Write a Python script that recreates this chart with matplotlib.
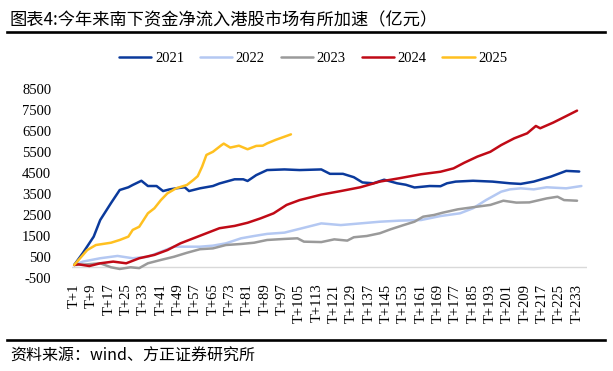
import matplotlib
matplotlib.use("Agg")
import matplotlib.pyplot as plt
from matplotlib.lines import Line2D

# DATA (T+n day index -> cumulative net inflow, 亿元)
t_2021 = [1, 5, 10, 13, 18, 22, 26, 28, 32, 35, 39, 42, 45, 48, 52, 54, 59, 65, 68, 75,
          79, 81, 85, 90, 98, 105, 115, 119, 125, 130, 134, 139, 144, 150, 154, 158,
          165, 170, 173, 177, 185, 194, 202, 207, 213, 221, 228, 234]
v_2021 = [120, 690, 1470, 2260, 3070, 3690, 3820, 3930, 4130, 3880, 3880, 3640, 3720,
          3770, 3820, 3640, 3770, 3880, 4000, 4200, 4200, 4120, 4400, 4640, 4670, 4640,
          4670, 4460, 4460, 4300, 4050, 4010, 4180, 4010, 3940, 3810, 3880, 3870, 4010,
          4090, 4130, 4090, 4010, 3980, 4090, 4330, 4600, 4570]

t_2022 = [1, 5, 13, 21, 28, 35, 41, 47, 53, 59, 65, 71, 78, 84, 90, 98, 105, 115, 124,
          133, 142, 151, 161, 170, 179, 185, 191, 198, 202, 207, 213, 219, 228, 235]
v_2022 = [120, 280, 440, 550, 440, 510, 750, 990, 990, 990, 1040, 1150, 1390, 1500, 1600,
          1660, 1840, 2100, 2020, 2100, 2180, 2230, 2260, 2450, 2580, 2820, 3210, 3610,
          3720, 3770, 3720, 3820, 3770, 3880]

t_2023 = [1, 7, 13, 18, 22, 27, 31, 35, 41, 47, 53, 59, 65, 71, 78, 84, 90, 98, 104, 107,
          115, 121, 127, 130, 136, 142, 147, 153, 158, 162, 167, 171, 178, 185, 193, 199,
          205, 211, 219, 224, 227, 233]
v_2023 = [120, 150, 200, 10, -70, 10, -30, 200, 360, 510, 700, 870, 910, 1070, 1120, 1180,
          1310, 1360, 1390, 1230, 1210, 1340, 1280, 1440, 1500, 1630, 1820, 2020, 2180,
          2420, 2500, 2610, 2770, 2870, 2980, 3180, 3090, 3100, 3290, 3370, 3210, 3180]

t_2024 = [1, 3, 8, 13, 19, 25, 31, 38, 44, 50, 56, 62, 68, 75, 81, 87, 93, 99, 105, 115,
          124, 133, 142, 151, 161, 170, 176, 181, 187, 193, 198, 204, 210, 214, 216, 222,
          228, 233]
v_2024 = [120, 150, 70, 200, 280, 200, 440, 600, 830, 1150, 1390, 1630, 1870, 1980, 2130,
          2340, 2580, 2980, 3210, 3470, 3640, 3820, 4090, 4250, 4440, 4560, 4720, 4990,
          5280, 5510, 5830, 6150, 6390, 6740, 6630, 6900, 7210, 7470]

t_2025 = [1, 7, 11, 18, 22, 26, 28, 31, 35, 38, 41, 44, 48, 53, 56, 58, 60, 62, 65, 69,
          70, 73, 77, 81, 85, 88, 90, 94, 101]
v_2025 = [120, 830, 1070, 1180, 1310, 1470, 1790, 1940, 2580, 2820, 3210, 3530, 3770, 3930,
          4170, 4350, 4800, 5360, 5510, 5830, 5900, 5710, 5800, 5630, 5790, 5800, 5910,
          6080, 6340]

tick_days = list(range(1, 234, 8))
tick_labels = ["T+%d" % d for d in tick_days]
y_ticks = list(range(-500, 8501, 1000))

series = [
    ("2021", t_2021, v_2021, "#0B3A9C"),
    ("2022", t_2022, v_2022, "#B4C8F2"),
    ("2023", t_2023, v_2023, "#9A9A9A"),
    ("2024", t_2024, v_2024, "#C00A16"),
    ("2025", t_2025, v_2025, "#FFC020"),
]

SERIF = "Liberation Serif"
CJK = ["Noto Sans CJK SC", "DejaVu Sans"]

fig = plt.figure(figsize=(6.13, 3.71), dpi=100)
ax = fig.add_axes([0.1175, 0.2507, 0.8401, 0.5094])

for name, t, v, c in series:
    ax.plot(t, v, color=c, linewidth=1.8, label=name, solid_capstyle="round")

ax.axhline(0, color="#D9D9D9", linewidth=1, zorder=0)
ax.set_xlim(0, 237.6)
ax.set_ylim(-500, 8500)
for s in ax.spines.values():
    s.set_visible(False)

ax.set_yticks(y_ticks)
ax.set_yticklabels([str(y) for y in y_ticks], fontfamily=SERIF, fontsize=10.5)
ax.set_xticks(tick_days)
ax.set_xticklabels(tick_labels, rotation=90, fontfamily=SERIF, fontsize=10.5)
ax.tick_params(axis="both", length=0)
ax.tick_params(axis="y", pad=15)
ax.tick_params(axis="x", pad=4)

fig.legend(loc="center", bbox_to_anchor=(0.511, 0.842), ncol=5, frameon=False,
           prop={"family": SERIF, "size": 10.5}, handlelength=2.2,
           handletextpad=0.25, columnspacing=1.1)

# title, rules and source
fig.text(0.0163, 0.944, "图表4:今年来南下资金净流入港股市场有所加速（亿元）",
         family=CJK, fontsize=12.4, va="center", ha="left")
fig.add_artist(Line2D([0.0114, 0.987], [0.913, 0.913], color="black", linewidth=1.9))
fig.add_artist(Line2D([0.0114, 0.987], [0.0836, 0.0836], color="black", linewidth=1.9))
fig.text(0.0163, 0.0385, "资料来源：wind、方正证券研究所",
         family=CJK, fontsize=11.5, va="center", ha="left")

fig.savefig("out.png", dpi=100)
